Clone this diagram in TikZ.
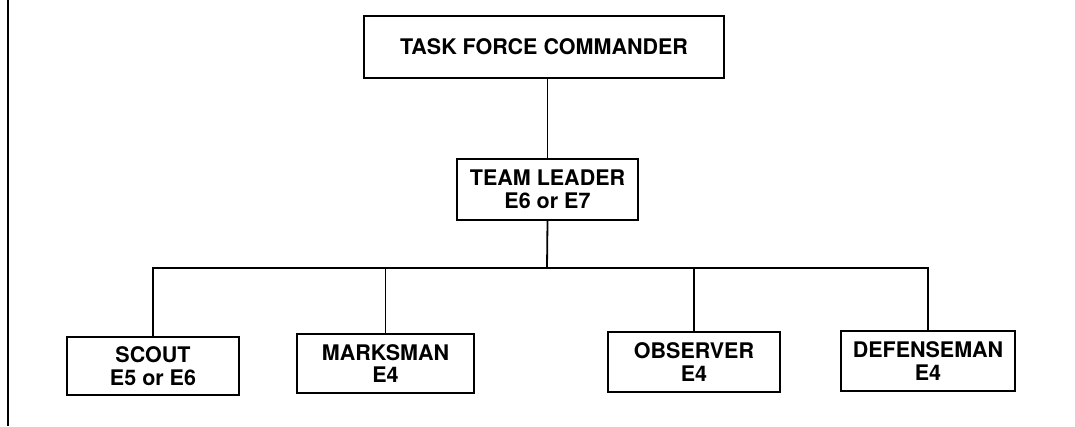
\documentclass[tikz,border=0pt]{standalone}
\usepackage{fontspec}
\setmainfont{TeX Gyre Heros}
\begin{document}
\begin{tikzpicture}[x=1pt,y=-1pt,
  post/.style={draw, line width=1.8pt, align=center, inner sep=0pt,
    font=\bfseries\fontsize{21.5}{22.5}\selectfont},
  link/.style={line width=1.8pt}]
\useasboundingbox (0,0) rectangle (1075,426);
\fill[white] (0,0) rectangle (1075,426);
% page rule at the left
\coordinate (ruletop) at (8,0);
\coordinate (rulebot) at (8,426);
\draw[line width=2pt] (ruletop) -- (rulebot);

\node[post, minimum width=360pt, minimum height=62pt] (tfc) at (544,47) {TASK FORCE COMMANDER};
\node[post, minimum width=181pt, minimum height=61pt] (tl) at (547.5,189.5) {TEAM LEADER\\E6 or E7};
\node[post, minimum width=172pt, minimum height=58pt] (scout) at (153,366) {SCOUT\\E5 or E6};
\node[post, minimum width=177pt, minimum height=59pt] (marks) at (385.5,363.5) {MARKSMAN\\E4};
\node[post, minimum width=172pt, minimum height=60pt] (obs) at (694,362) {OBSERVER\\E4};
\node[post, minimum width=174pt, minimum height=60pt] (def) at (928,361) {DEFENSEMAN\\E4};

% bus line
\coordinate (bus) at (547,268);
\draw[link] (tl.north) -- (tl.north |- tfc.south);
\draw[link] (tl.south) -- (bus);
\draw[link] (scout.north) |- (bus) -| (def.north);
\draw[link] (marks.north) -- (marks.north |- bus);
\draw[link] (obs.north) -- (obs.north |- bus);
\end{tikzpicture}
\end{document}
